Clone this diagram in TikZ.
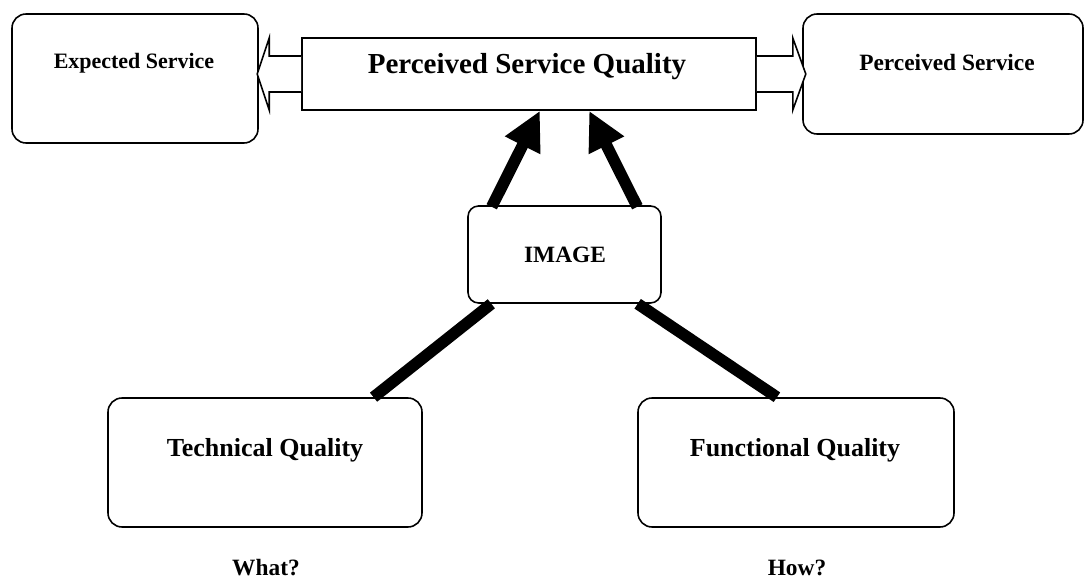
\documentclass[tikz,border=0pt]{standalone}
\usepackage{fontspec}
\setmainfont{Liberation Serif}
\usetikzlibrary{arrows.meta,calc}

\begin{document}
\begin{tikzpicture}[x=1cm,y=1cm,
  every node/.style={font=\bfseries,inner sep=2pt},
  box/.style={draw,line width=.9pt,rounded corners=8pt},
  heavy/.style={line width=6.6pt},
  push/.style={heavy,-{Triangle[length=22pt,width=21pt]},shorten <=-1pt},
  hollow/.style={draw,line width=.9pt,fill=white,line join=miter},
  label/.style={font=\bfseries\fontsize{12.5}{15}\selectfont},
  title/.style={font=\bfseries\fontsize{15}{18}\selectfont}]

\useasboundingbox (0,0) rectangle (21.68,11.58);

% top row
\node[box,minimum width=4.92cm,minimum height=2.58cm] (expected) at (2.70,10.01) {};
\node[draw,line width=.9pt,minimum width=9.08cm,minimum height=1.44cm] (psq) at (10.58,10.10) {};
\node[box,minimum width=5.60cm,minimum height=2.40cm] (perceived) at (18.86,10.10) {};
\node[label] at (2.68,10.32) {Expected Service};
\node[title,font=\bfseries\fontsize{16.5}{20}\selectfont] at (10.54,10.24) {Perceived Service Quality};
\node[label,font=\bfseries\fontsize{13.3}{16}\selectfont] at (18.94,10.32) {Perceived Service};

% middle and bottom row
\node[box,rounded corners=6pt,minimum width=3.86cm,minimum height=1.94cm] (image) at (11.29,6.49) {};
\node[label,font=\bfseries\fontsize{13.3}{16}\selectfont] at (11.30,6.48) {IMAGE};
\node[box,minimum width=6.28cm,minimum height=2.58cm] (technical) at (5.30,2.33) {};
\node[box,minimum width=6.32cm,minimum height=2.58cm] (functional) at (15.92,2.33) {};
\node[title,font=\bfseries\fontsize{14.8}{18}\selectfont] at (5.30,2.58) {Technical Quality};
\node[title,font=\bfseries\fontsize{14.8}{18}\selectfont] at (15.90,2.58) {Functional Quality};
\node[label,font=\bfseries\fontsize{13.3}{16}\selectfont] (what) at (5.32,0.22) {What?};
\node[label,font=\bfseries\fontsize{13.3}{16}\selectfont] (how) at (15.94,0.22) {How?};

% outlined block arrows on both sides of the central box
\path[hollow] ([yshift=3.6mm]psq.west) --++(-.64,0) --++(0,.36) --++(-.24,-.72)
  --++(.24,-.72) --++(0,.36) --++(.64,0);
\path[hollow] ([yshift=3.6mm]psq.east) --++(.72,0) --++(0,.36) --++(.26,-.72)
  --++(-.26,-.72) --++(0,.36) --++(-.72,0);

\draw[push] ($(image.north west)!.13!(image.north east)$)
  -- ($(psq.south west)!.524!(psq.south east)$);
\draw[push] ($(image.north west)!.87!(image.north east)$)
  -- ($(psq.south west)!.632!(psq.south east)$);
\draw[heavy] ($(image.south west)!.124!(image.south east)$)
  -- ($(technical.north west)!.844!(technical.north east)$);
\draw[heavy] ($(image.south west)!.876!(image.south east)$)
  -- ($(functional.north west)!.44!(functional.north east)$);
\end{tikzpicture}
\end{document}
